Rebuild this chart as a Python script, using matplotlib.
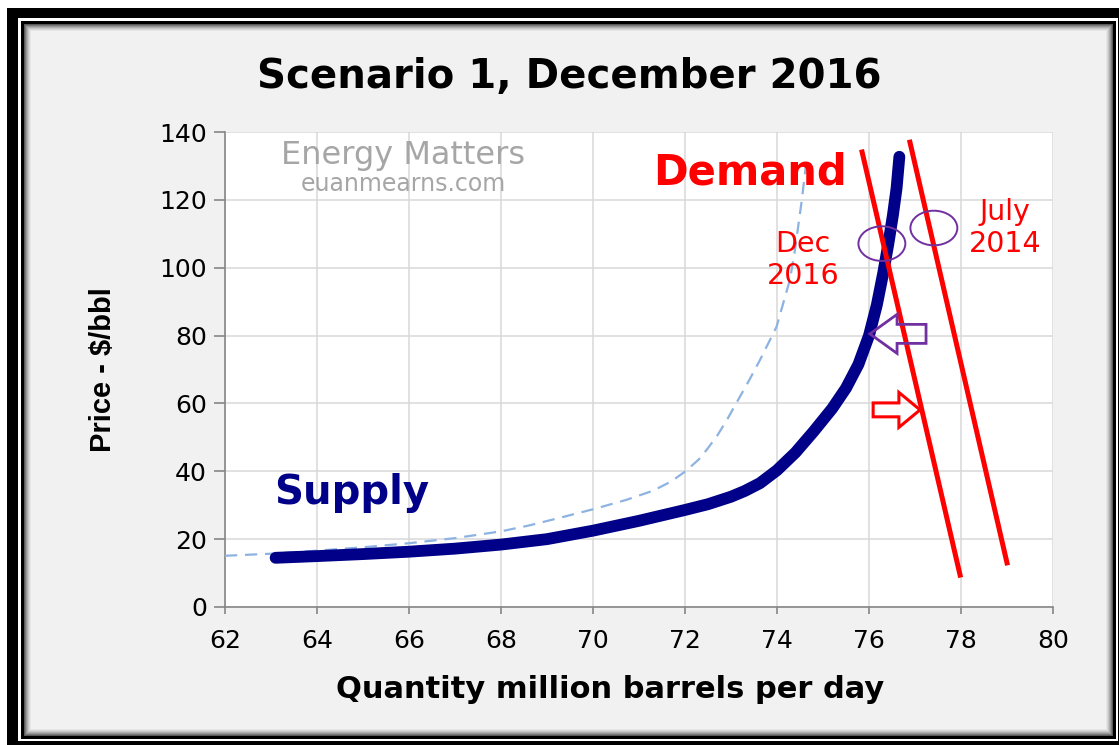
import matplotlib
matplotlib.use("Agg")
import matplotlib.pyplot as plt
import numpy as np
from matplotlib.patches import Rectangle, Ellipse, FancyArrow

# supply curve (thick navy)
supply_q = [63.1, 64, 65, 66, 67, 68, 69, 70, 71, 72, 72.5, 73.0, 73.3, 73.63,
            74.0, 74.4, 74.8, 75.2, 75.5, 75.77, 76.0, 76.17, 76.31, 76.42,
            76.52, 76.6, 76.66]
supply_p = [14.5, 15.0, 15.6, 16.3, 17.2, 18.4, 20.0, 22.5, 25.4, 28.6, 30.3,
            32.5, 34.2, 36.5, 40.3, 45.5, 51.8, 58.5, 64.5, 71.5, 80.0, 89.0,
            98.5, 107.0, 115.5, 123.5, 132.7]

# older supply curve (dashed light blue)
old_q = [62, 63, 64, 65, 66, 67, 68, 68.6, 69.28, 70, 70.73, 71.31, 71.7,
         72.02, 72.3, 72.47, 72.7, 72.91, 73.12, 73.41, 73.63, 73.99, 74.28,
         74.39, 74.54, 74.65]
old_p = [15.1, 15.7, 16.6, 17.6, 18.8, 20.3, 22.3, 24.0, 26.3, 28.8, 31.6,
         34.3, 37.0, 40.1, 43.5, 46.3, 50.5, 55.1, 60.2, 67.2, 72.8, 82.6,
         96.4, 105.2, 120.0, 132.7]

# demand lines (start / end points)
dec16_q = [75.85, 77.98]
dec16_p = [134.1, 9.4]
jul14_q = [76.89, 79.0]
jul14_p = [137.0, 13.0]

# intersection circles (centre q, centre p)
circle_q = [76.28, 77.41]
circle_p = [107.1, 111.7]

x_ticks = list(range(62, 81, 2))
y_ticks = list(range(0, 141, 20))

W, H = 1119, 745
fig = plt.figure(figsize=(W / 100, H / 100), dpi=100, facecolor="white")


def frame_rect(x0, y0, x1, y1, **kw):
    # pixel box -> figure fraction rectangle
    r = Rectangle((x0 / W, 1 - y1 / H), (x1 - x0) / W, (y1 - y0) / H,
                  transform=fig.transFigure, zorder=-10, **kw)
    fig.add_artist(r)
    return r


# outer double frame with soft inner shadow
frame_rect(7, 8, 1130, 760, facecolor="black", edgecolor="none")
frame_rect(18, 18, 1118, 741, facecolor="white", edgecolor="none")
frame_rect(21, 21, 1116, 739, facecolor="black", edgecolor="none")
shades = ["#5a5a5a", "#7a7a7a", "#969696", "#b0b0b0", "#c6c6c6", "#d8d8d8", "#e6e6e6", "#f1f1f1"]
for i, c in enumerate(shades):
    frame_rect(24 + i, 24 + i, 1113 - i, 736 - i, facecolor=c, edgecolor="none")

ax = fig.add_axes([225 / W, 1 - 607 / H, (1053 - 225) / W, (607 - 132) / H])
ax.set_facecolor("white")
ax.set_xlim(62, 80)
ax.set_ylim(0, 140)
ax.set_xticks(x_ticks)
ax.set_yticks(y_ticks)
ax.grid(True, color="#d9d9d9", lw=1.1)
ax.set_axisbelow(True)
for s in ["top", "right"]:
    ax.spines[s].set_visible(False)
for s in ["left", "bottom"]:
    ax.spines[s].set_color("#868686")
    ax.spines[s].set_linewidth(1.2)
ax.tick_params(axis="y", length=8, color="#868686", width=1.2, pad=5, labelsize=18)
ax.tick_params(axis="x", length=5, color="#868686", width=1.2, pad=11, labelsize=18)

ax.plot(old_q, old_p, color="#8db3e2", lw=1.6, ls=(0, (5.5, 3.5)), zorder=3)
ax.plot(supply_q, supply_p, color="#000088", lw=8.5, solid_capstyle="round",
        solid_joinstyle="round", zorder=4)
ax.plot(dec16_q, dec16_p, color="#ff0000", lw=3.6, zorder=5)
ax.plot(jul14_q, jul14_p, color="#ff0000", lw=3.6, zorder=5)

for cq, cp in zip(circle_q, circle_p):
    ax.add_patch(Ellipse((cq, cp), 1.02, 10.2, fill=False, ec="#7030a0", lw=1.4, zorder=6))

ax.add_patch(FancyArrow(77.24, 80.5, -1.22, 0, width=5.6, head_width=11.5,
                        head_length=0.59, length_includes_head=True,
                        fill=False, ec="#7030a0", lw=2.0, zorder=6))
ax.add_patch(FancyArrow(76.09, 58.1, 1.02, 0, width=4.1, head_width=10.3,
                        head_length=0.46, length_includes_head=True,
                        fill=False, ec="#ff0000", lw=2.2, zorder=6))

ax.text(73.41, 128.2, "Demand", color="#ff0000", fontsize=30, fontweight="bold",
        ha="center", va="center", zorder=7)
ax.text(64.76, 33.5, "Supply", color="#000088", fontsize=29, fontweight="bold",
        ha="center", va="center", zorder=7)
ax.text(74.57, 102.3, "Dec\n2016", color="#ff0000", fontsize=20.5, ha="center",
        va="center", linespacing=1.15, zorder=7)
ax.text(78.96, 111.7, "July\n2014", color="#ff0000", fontsize=20.5, ha="center",
        va="center", linespacing=1.15, zorder=7)
ax.text(65.87, 133.2, "Energy Matters", color="#a6a6a6", fontsize=23,
        ha="center", va="center", zorder=7)
ax.text(65.87, 124.6, "euanmearns.com", color="#a6a6a6", fontsize=17,
        ha="center", va="center", zorder=7)

fig.text(569 / W, 1 - 77 / H, "Scenario 1, December 2016", fontsize=29,
         fontweight="bold", ha="center", va="center")
fig.text(610 / W, 1 - 690 / H, "Quantity million barrels per day", fontsize=22,
         fontweight="bold", ha="center", va="center")
fig.text(103 / W, 1 - 370 / H, "Price - $/bbl", fontsize=21, fontweight="bold",
         ha="center", va="center", rotation=90, family="Liberation Sans")

fig.savefig("out.png", dpi=100, facecolor=fig.get_facecolor())
